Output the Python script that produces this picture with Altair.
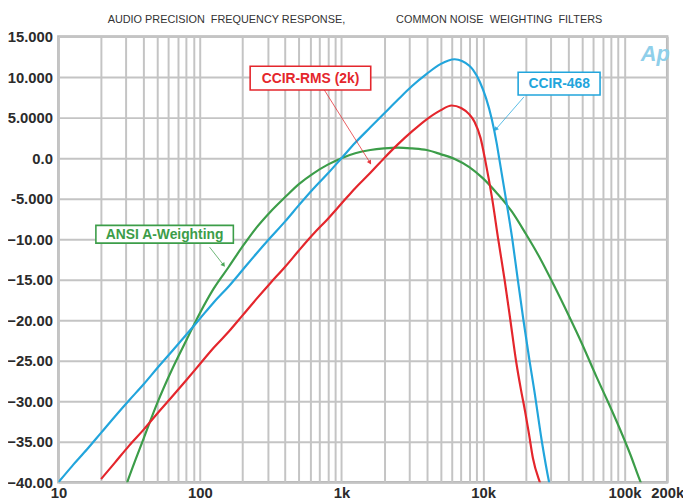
import altair as alt
import pandas as pd

# ---------------- data ----------------
a_freq = [10, 12.5, 16, 20, 25, 31.5, 40, 50, 63, 80, 100, 125, 160, 200, 250, 315,
          400, 500, 630, 800, 1000, 1250, 1600, 2000, 2500, 3150, 4000, 5000, 6300,
          8000, 10000, 12500, 16000, 20000, 25000, 31500, 40000, 50000, 63000, 76000,
          92000, 110000, 130000, 150000]
a_db = [-70.4, -63.4, -56.7, -50.5, -44.7, -39.4, -34.6, -30.2, -26.2, -22.5, -19.1,
        -16.1, -13.4, -10.9, -8.6, -6.6, -4.8, -3.2, -1.9, -0.8, 0.0, 0.6, 1.0, 1.2,
        1.3, 1.2, 1.0, 0.5, -0.1, -1.1, -2.5, -4.3, -6.6, -9.3, -12.2, -15.6, -19.3,
        -22.9, -26.9, -30.0, -33.3, -36.6, -40.0, -42.3]

b_freq = [10, 12.5, 16, 20, 25, 31.5, 40, 50, 63, 80, 100, 125, 160, 200, 250, 315,
          400, 500, 630, 800, 1000, 1250, 1600, 2000, 2500, 3150, 4000, 5000, 6300,
          7100, 8000, 8500, 9500, 10500, 11500, 12500, 13000, 14500, 16100, 17600,
          19300, 21300, 22900, 26000, 29300, 31500]
b_db = [-40.0, -38.0, -35.9, -33.9, -31.9, -29.9, -27.9, -25.9, -23.9, -21.8, -19.8,
        -17.8, -15.8, -13.8, -11.8, -9.8, -7.8, -5.8, -3.8, -1.9, 0.0, 1.9, 3.8, 5.5,
        7.2, 8.9, 10.4, 11.6, 12.2, 12.0, 11.4, 10.9, 9.4, 7.4, 4.9, 1.8, 0.0, -5.0,
        -10.0, -15.0, -20.0, -25.0, -28.4, -34.9, -40.0, -42.5]

r_freq = [20, 25, 31.5, 40, 50, 63, 80, 100, 125, 160, 200, 250, 315, 400, 500, 630,
          800, 1000, 1250, 1600, 2000, 2500, 3150, 4000, 5000, 6000, 7000, 8000, 8700,
          9600, 10400, 11600, 12800, 14200, 15600, 17100, 18500, 19800, 21100, 22500,
          25200, 28000]
r_db = [-39.6, -37.6, -35.5, -33.5, -31.5, -29.5, -27.4, -25.4, -23.4, -21.4, -19.4,
        -17.4, -15.4, -13.4, -11.4, -9.4, -7.5, -5.6, -3.7, -1.8, 0.0, 1.7, 3.3, 4.8,
        5.9, 6.5, 6.2, 5.4, 4.5, 2.5, -0.4, -5.0, -10.0, -15.0, -20.0, -25.0, -28.5,
        -31.2, -34.0, -37.0, -40.0, -42.0]

curve_names = ["ANSI A-Weighting", "CCIR-RMS (2k)", "CCIR-468"]
curve_colors = ["#3c9d49", "#e4262c", "#22a5dc"]

# annotation boxes (frequency / dB coordinates)
ann_label = ["ANSI A-Weighting", "CCIR-RMS (2k)", "CCIR-468"]
ann_f1 = [18.4, 226.3, 17700]
ann_f2 = [172.2, 1609, 67100]
ann_d1 = [-8.29, 11.34, 10.61]
ann_d2 = [-10.49, 8.41, 7.80]
ann_tf = [56.3, 603.6, 34500]
ann_td = [-9.4, 9.88, 9.21]
arr_f1 = [117.0, 755.9, 19460]
arr_d1 = [-10.98, 8.41, 7.56]
arr_f2 = [147.0, 1590, 12300]
arr_d2 = [-13.2, -0.55, 3.55]
arr_ang = [143, 148, 220]
ann_col = ["#3c9d49", "#e4262c", "#22a5dc"]

x_ticks = [10, 20, 30, 40, 50, 60, 70, 80, 90,
           100, 200, 300, 400, 500, 600, 700, 800, 900,
           1000, 2000, 3000, 4000, 5000, 6000, 7000, 8000, 9000,
           10000, 20000, 30000, 40000, 50000, 60000, 70000, 80000, 90000,
           100000, 200000]
y_ticks = [-40, -35, -30, -25, -20, -15, -10, -5, 0, 5, 10, 15]

# ---------------- build ----------------
rows = []
for name, fr, db in [(curve_names[0], a_freq, a_db),
                     (curve_names[1], r_freq, r_db),
                     (curve_names[2], b_freq, b_db)]:
    for f, d in zip(fr, db):
        rows.append({"freq": f, "db": d, "curve": name})
df_lines = pd.DataFrame(rows)

df_ann = pd.DataFrame({
    "label": ann_label, "f1": ann_f1, "f2": ann_f2, "d1": ann_d1, "d2": ann_d2,
    "tf": ann_tf, "td": ann_td, "af1": arr_f1, "ad1": arr_d1, "af2": arr_f2,
    "ad2": arr_d2, "ang": arr_ang, "col": ann_col,
})

FONT = "Liberation Sans"
xs = alt.Scale(type="log", domain=[10, 200000], nice=False)
ys = alt.Scale(domain=[-40, 15], nice=False, zero=False)

x_axis = alt.Axis(
    values=x_ticks,
    labelExpr="datum.value == 10 ? '10' : datum.value == 100 ? '100' : datum.value == 1000 ? '1k' : "
              "datum.value == 10000 ? '10k' : datum.value == 100000 ? '100k' : datum.value == 200000 ? '200k' : ''",
    grid=True, gridColor="#c4c4c4", gridWidth=2, ticks=False, domain=False,
    labelFont=FONT, labelFontWeight="bold", labelFontSize=15, labelColor="#2b2b2b",
    labelPadding=3, labelOverlap=False, labelFlush=False, labelBound=False, title=None,
)
y_axis = alt.Axis(
    values=y_ticks,
    labelExpr="datum.value == 15 ? '15.000' : datum.value == 10 ? '10.000' : datum.value == 5 ? '5.0000' : "
              "datum.value == 0 ? '0.0' : datum.value == -5 ? '-5.000' : format(datum.value, '.2f')",
    grid=True, gridColor="#c4c4c4", gridWidth=2, ticks=False, domain=False,
    labelFont=FONT, labelFontWeight="bold", labelFontSize=15, labelColor="#2b2b2b",
    labelPadding=6, labelOverlap=False, labelFlush=False, labelBound=False, title=None,
)


def X(field):
    return alt.X(field, type="quantitative", scale=xs, axis=x_axis)


def Y(field):
    return alt.Y(field, type="quantitative", scale=ys, axis=y_axis)


lines = alt.Chart(df_lines).mark_line(strokeWidth=2.2, interpolate="monotone", clip=True).encode(
    x=X("freq"), y=Y("db"),
    color=alt.Color("curve:N", scale=alt.Scale(domain=curve_names, range=curve_colors), legend=None),
    detail="curve:N",
)

arrows = alt.Chart(df_ann).mark_rule(strokeWidth=1, opacity=0.75).encode(
    x=X("af1"), y=Y("ad1"), x2="af2", y2="ad2",
    color=alt.Color("col:N", scale=None),
)
heads = alt.Chart(df_ann).mark_point(shape="triangle-up", filled=True, size=24, opacity=0.9).encode(
    x=X("af2"), y=Y("ad2"),
    angle=alt.Angle("ang:Q", scale=None),
    color=alt.Color("col:N", scale=None),
)
boxes = alt.Chart(df_ann).mark_rect(fill="white", strokeWidth=1.6).encode(
    x=X("f1"), x2="f2", y=Y("d1"), y2="d2",
    stroke=alt.Stroke("col:N", scale=None),
)
labels = alt.Chart(df_ann).mark_text(font=FONT, fontWeight="bold", fontSize=14, baseline="middle", dy=1).encode(
    x=X("tf"), y=Y("td"), text="label:N",
    color=alt.Color("col:N", scale=None),
)

title1 = alt.Chart(pd.DataFrame({"t": [0]})).mark_text(
    font=FONT, fontSize=11, color="#333333", baseline="middle", align="center"
).encode(x=alt.value(170), y=alt.value(-17), text=alt.value("AUDIO PRECISION\u00a0 FREQUENCY RESPONSE,"))
title2 = alt.Chart(pd.DataFrame({"t": [0]})).mark_text(
    font=FONT, fontSize=11, color="#333333", baseline="middle", align="center"
).encode(x=alt.value(446), y=alt.value(-17), text=alt.value("COMMON NOISE\u00a0 WEIGHTING\u00a0 FILTERS"))
logo = alt.Chart(pd.DataFrame({"t": [0]})).mark_text(
    font=FONT, fontSize=22, fontStyle="italic", fontWeight="bold", color="#8fcfea",
    baseline="middle", align="center"
).encode(x=alt.value(604), y=alt.value(18), text=alt.value("Ap"))

chart = alt.layer(lines, arrows, heads, boxes, labels, title1, title2, logo).properties(
    width=616, height=451,
    autosize=alt.AutoSizeParams(type="none"),
    padding={"left": 51, "top": 26, "right": 16, "bottom": 18},
    background="white",
).configure_view(stroke="#b8b8b8", strokeWidth=2.5)

chart.save("out.html", embed_options={"renderer": "svg", "actions": False})
